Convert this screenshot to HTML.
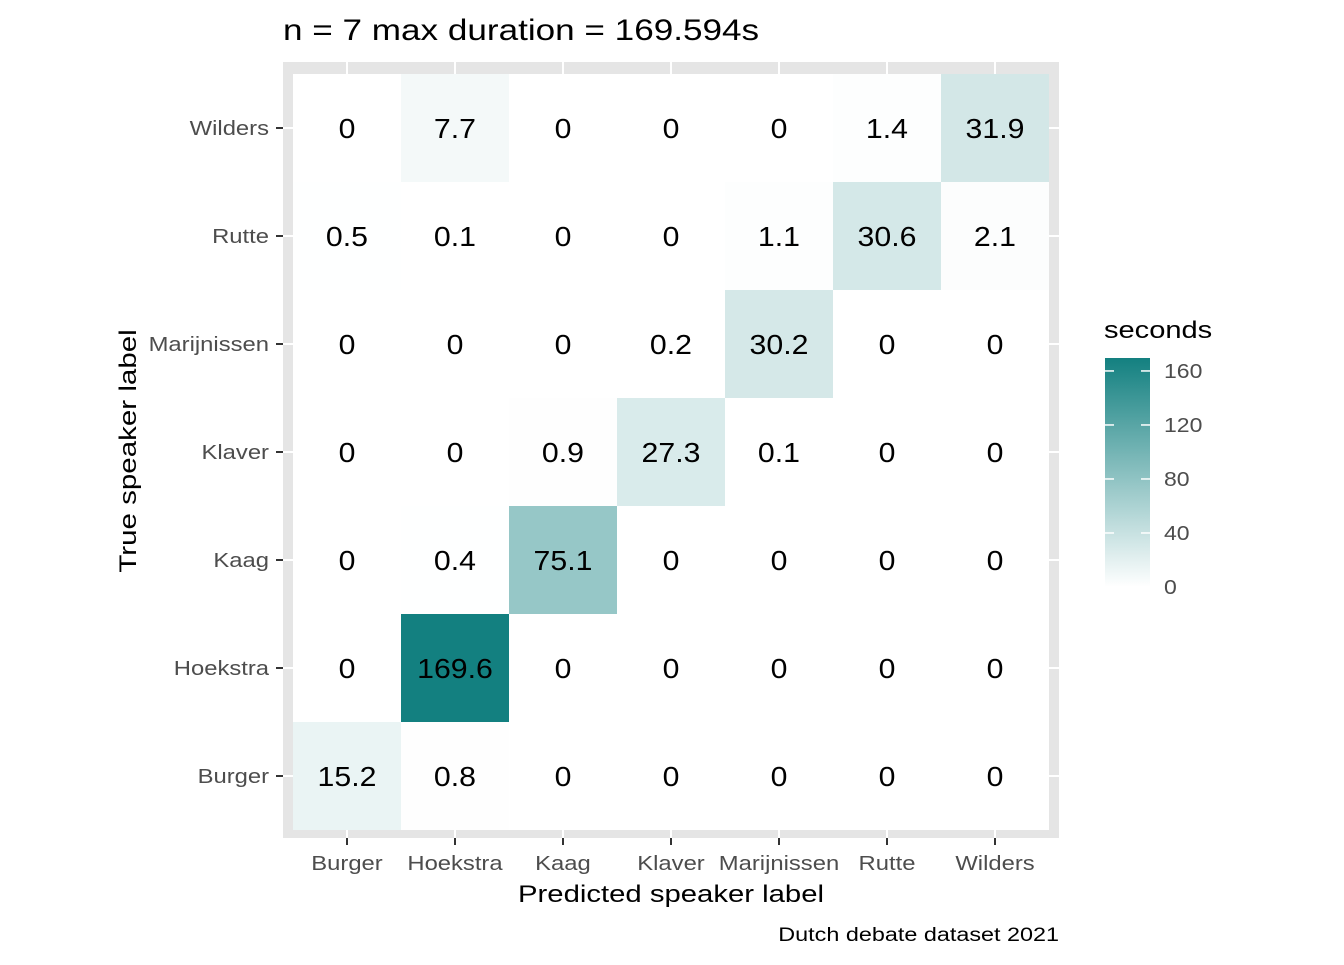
<!DOCTYPE html>
<html><head><meta charset="utf-8"><style>
body{margin:0;background:#fff;}
svg text{font-family:"Liberation Sans",Arial,sans-serif;}
</style></head><body>
<svg id="chart" width="1344" height="960" xmlns="http://www.w3.org/2000/svg">
<defs><linearGradient id="lg" x1="0" y1="1" x2="0" y2="0"><stop offset="0" stop-color="#ffffff"/><stop offset="1" stop-color="#138080"/></linearGradient></defs>
<text class="st" data-s="1.17" x="283" y="40" font-size="30" fill="#000">n = 7 max duration = 169.594s</text>
<rect x="283" y="62" width="776" height="776" fill="#e5e5e5"/>
<g id="grid"></g><g id="tiles"></g><g id="axes"></g>
<text class="st" data-s="1.22" data-c="1" x="671" y="902" font-size="24" text-anchor="middle">Predicted speaker label</text>
<text class="st" data-s="1.23" data-c="1" transform="translate(136,451) rotate(-90)" x="0" y="0" font-size="24" text-anchor="middle">True speaker label</text>
<text class="st" data-s="1.23" x="1059" y="941" font-size="19" text-anchor="end">Dutch debate dataset 2021</text>
<text class="st" data-s="1.21" x="1104" y="338" font-size="24">seconds</text>
<rect x="1105" y="358" width="45" height="229" fill="url(#lg)"/>
<g id="legend"></g>
</svg>
<script>
const xCats=["Burger","Hoekstra","Kaag","Klaver","Marijnissen","Rutte","Wilders"];
const yCats=["Burger","Hoekstra","Kaag","Klaver","Marijnissen","Rutte","Wilders"];
const values=[
[15.2,0.8,0,0,0,0,0],
[0,169.6,0,0,0,0,0],
[0,0.4,75.1,0,0,0,0],
[0,0,0.9,27.3,0.1,0,0],
[0,0,0,0.2,30.2,0,0],
[0.5,0.1,0,0,1.1,30.6,2.1],
[0,7.7,0,0,0,1.4,31.9]
];
const legendTicks=[0,40,80,120,160];
const maxV=169.594;
const NS="http://www.w3.org/2000/svg";
const cell=108;
const xc=i=>347+i*cell;
const yc=j=>776-j*cell;
function mk(tag,at,parent){const e=document.createElementNS(NS,tag);for(const k in at)e.setAttribute(k,at[k]);document.getElementById(parent).appendChild(e);return e;}
function col(v){const t=Math.max(0,Math.min(1,v/maxV));const r=Math.round(255+(19-255)*t),g=Math.round(255+(128-255)*t),b=Math.round(255+(128-255)*t);return `rgb(${r},${g},${b})`;}
xCats.forEach((c,i)=>{
  const l=mk('line',{x1:xc(i),x2:xc(i),y1:62,y2:838,stroke:'#fff','stroke-width':2},'grid');
  
  
  const t=mk('line',{x1:xc(i),x2:xc(i),y1:838,y2:845,stroke:'#333','stroke-width':2},'axes');
  
  
  const tx=mk('text',{x:xc(i),y:870,'font-size':20,fill:'#4d4d4d','text-anchor':'middle',class:'st','data-s':'1.19'},'axes');tx.textContent=c;
  
  
});
yCats.forEach((c,j)=>{
  const l=mk('line',{y1:yc(j),y2:yc(j),x1:283,x2:1059,stroke:'#fff','stroke-width':2},'grid');
  
  
  const t=mk('line',{y1:yc(j),y2:yc(j),x1:276,x2:283,stroke:'#333','stroke-width':2},'axes');
  
  
  const tx=mk('text',{x:269,y:yc(j)+7,'font-size':20,fill:'#4d4d4d','text-anchor':'end',class:'st','data-s':'1.19'},'axes');tx.textContent=c;
  
  
});
values.forEach((row,j)=>row.forEach((v,i)=>{
  const r=mk('rect',{x:xc(i)-cell/2,y:yc(j)-cell/2,width:cell,height:cell,fill:col(v)},'tiles');
  
  
  const t=mk('text',{x:xc(i),y:yc(j)+10,'font-size':28,'text-anchor':'middle',fill:'#000',class:'st','data-s':'1.08'},'tiles');t.textContent=v;
  
  
}));
const ly=v=>587-v*(229/maxV);
legendTicks.forEach(v=>{
  const a=mk('line',{x1:1105,x2:1114,y1:ly(v),y2:ly(v),stroke:'#fff','stroke-width':1.5},'legend');
  
  
  const b=mk('line',{x1:1141,x2:1150,y1:ly(v),y2:ly(v),stroke:'#fff','stroke-width':1.5},'legend');
  
  
  const t=mk('text',{x:1164,y:ly(v)+7,'font-size':20,fill:'#4d4d4d',class:'st','data-s':'1.15'},'legend');t.textContent=v;
  
  
});
document.querySelectorAll('text.st').forEach(t=>{
  const s=parseFloat(t.getAttribute('data-s'));
  const w=t.getComputedTextLength();
  if(w>0){t.setAttribute('textLength',(w*s).toFixed(1));t.setAttribute('lengthAdjust','spacingAndGlyphs');}
});
</script>
</body></html>
